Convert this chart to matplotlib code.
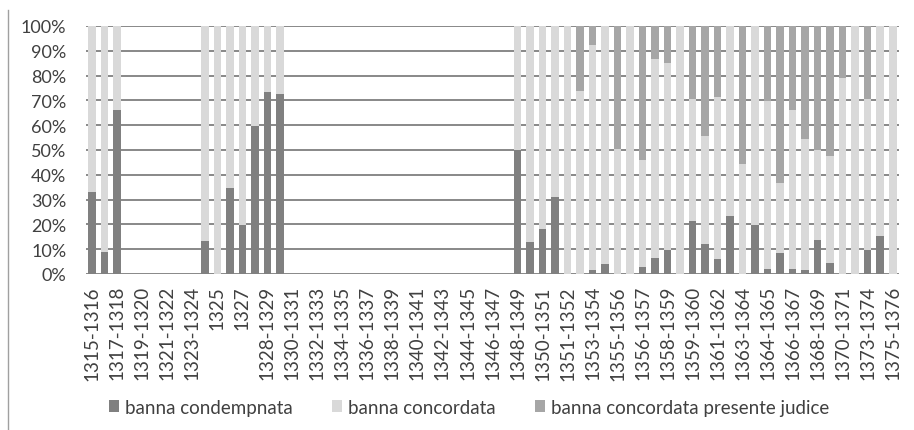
import matplotlib
matplotlib.use("Agg")
import matplotlib.pyplot as plt
from matplotlib.ticker import FuncFormatter
import numpy as np

plt.rcParams['font.family'] = ['Lato', 'DejaVu Sans']

# every second category label is shown on the axis (as in the original)
shown_labels = ["1315-1316", "1317-1318", "1319-1320", "1321-1322", "1323-1324",
                "1325", "1327", "1328-1329", "1330-1331", "1332-1333", "1334-1335",
                "1336-1337", "1338-1339", "1340-1341", "1342-1343", "1344-1345",
                "1346-1347", "1348-1349", "1350-1351", "1351-1352", "1353-1354",
                "1355-1356", "1356-1357", "1358-1359", "1359-1360", "1361-1362",
                "1363-1364", "1364-1365", "1366-1367", "1368-1369", "1370-1371",
                "1373-1374", "1375-1376"]

# percentages per category (65 categories, empty years = 0)
condempnata = [33.2, 9.0, 66.3, 0, 0, 0, 0, 0, 0, 13.3,
               0, 34.6, 19.7, 59.7, 73.3, 72.6, 0, 0, 0, 0,
               0, 0, 0, 0, 0, 0, 0, 0, 0, 0,
               0, 0, 0, 0, 50.0, 13.0, 18.2, 31.0, 0, 0,
               1.7, 4.0, 0, 0, 2.7, 6.5, 9.7, 0, 21.3, 12.0,
               6.0, 23.3, 0, 19.7, 2.1, 8.6, 2.1, 1.7, 13.7, 4.4,
               0, 0, 9.7, 15.2, 0]

concordata = [66.8, 91.0, 33.7, 0, 0, 0, 0, 0, 0, 86.7,
              100, 65.4, 80.3, 40.3, 26.7, 27.4, 0, 0, 0, 0,
              0, 0, 0, 0, 0, 0, 0, 0, 0, 0,
              0, 0, 0, 0, 50.0, 87.0, 81.8, 69.0, 100, 73.6,
              90.5, 96.0, 50.5, 100, 43.3, 80.1, 75.5, 100, 49.2, 43.7,
              65.5, 76.7, 44.4, 80.3, 67.7, 28.0, 64.1, 52.9, 36.3, 43.3,
              79.2, 100, 60.8, 84.8, 100]

presente_judice = [0, 0, 0, 0, 0, 0, 0, 0, 0, 0,
                   0, 0, 0, 0, 0, 0, 0, 0, 0, 0,
                   0, 0, 0, 0, 0, 0, 0, 0, 0, 0,
                   0, 0, 0, 0, 0, 0, 0, 0, 0, 26.4,
                   7.8, 0, 49.5, 0, 54.0, 13.4, 14.8, 0, 29.5, 44.3,
                   28.5, 0, 55.6, 0, 30.2, 63.4, 33.8, 45.4, 50.0, 52.3,
                   20.8, 0, 29.5, 0, 0]

x = np.arange(len(condempnata))
a = np.array(condempnata)
b = np.array(concordata)
c = np.array(presente_judice)

fig = plt.figure(figsize=(9.14, 4.31), dpi=100)
ax = fig.add_axes([0.094, 0.362, 0.8896, 0.5754])

w = 0.6
ax.bar(x, a, w, color="#808080", label="banna condempnata", zorder=2)
ax.bar(x, b, w, bottom=a, color="#d9d9d9", label="banna concordata", zorder=2)
ax.bar(x, c, w, bottom=a + b, color="#a6a6a6",
       label="banna concordata presente judice", zorder=2)

ax.set_xlim(-0.5, len(x) - 0.5)
ax.set_ylim(0, 100)
ax.set_yticks(np.arange(0, 101, 10))
ax.yaxis.set_major_formatter(FuncFormatter(lambda v, p: f"{int(v)}%"))
ax.grid(axis="y", color="#888888", linewidth=1.4, zorder=0)
ax.set_axisbelow(True)

ax.set_xticks(x[::2])
ax.set_xticklabels(shown_labels, rotation=90, fontsize=13.5, color="#404040")
ax.tick_params(axis="y", labelsize=13, labelcolor="#404040", length=0, pad=14)
ax.tick_params(axis="x", length=0, pad=8)
for s in ax.spines.values():
    s.set_visible(False)

leg = fig.legend(loc="center", bbox_to_anchor=(0.513, 0.053), ncol=3, frameon=False,
                 fontsize=13.5, handlelength=0.55, handleheight=0.55,
                 handletextpad=0.3, columnspacing=2.1)
for t in leg.get_texts():
    t.set_color("#404040")

# thin border line on the left of the picture
fig.add_artist(plt.Line2D([0.009, 0.009], [0.0, 0.975], color="#a0a0a0", linewidth=1))

fig.savefig("out.png", dpi=100)
